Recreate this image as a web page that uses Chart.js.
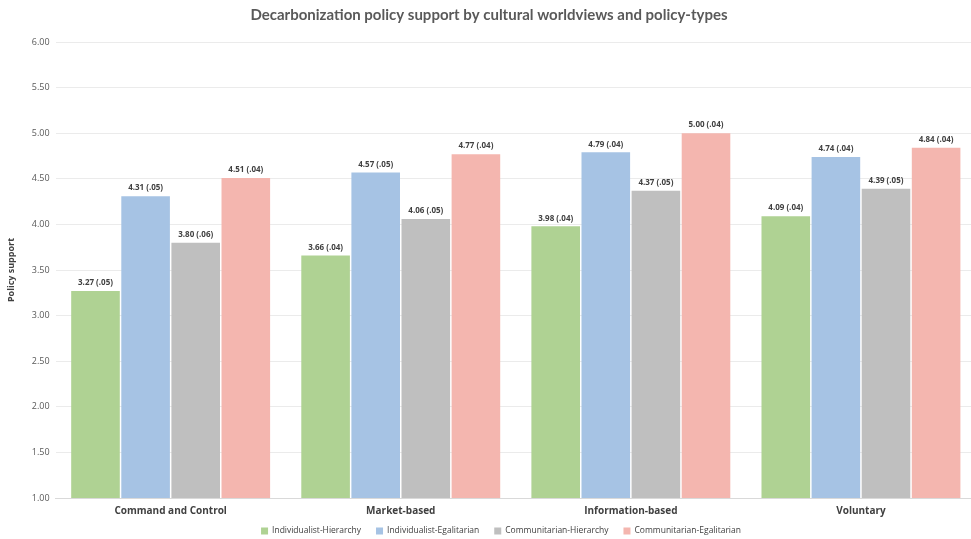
<!DOCTYPE html>
<html>
<head>
<meta charset="utf-8">
<script src="https://cdn.jsdelivr.net/npm/chart.js@4.4.0/dist/chart.umd.min.js"></script>
<style>
  html, body { margin: 0; padding: 0; background: #fff; overflow: hidden; }
  #wrap { width: 971px; height: 539px; overflow: hidden; }
</style>
</head>
<body>
<div id="wrap"><canvas id="policyChart" width="980" height="539"></canvas></div>
<script>
// -------------------- DATA --------------------
const categories = ["Command and Control", "Market-based", "Information-based", "Voluntary"];
const seriesNames = ["Individualist-Hierarchy", "Individualist-Egalitarian", "Communitarian-Hierarchy", "Communitarian-Egalitarian"];

const indHierarchy = [3.27, 3.66, 3.98, 4.09];
const indEgalitarian = [4.31, 4.57, 4.79, 4.74];
const comHierarchy = [3.80, 4.06, 4.37, 4.39];
const comEgalitarian = [4.51, 4.77, 5.00, 4.84];

const seIndHierarchy = [".05", ".04", ".04", ".04"];
const seIndEgalitarian = [".05", ".05", ".04", ".04"];
const seComHierarchy = [".06", ".05", ".05", ".05"];
const seComEgalitarian = [".04", ".04", ".04", ".04"];

const colors = ["#afd293", "#a6c3e4", "#bfbfbf", "#f4b6af"];

// -------------------- LABEL PLUGIN --------------------
const errors = [seIndHierarchy, seIndEgalitarian, seComHierarchy, seComEgalitarian];

const barLabels = {
  id: "barLabels",
  afterDatasetsDraw(chart) {
    const c = chart.ctx;
    c.save();
    c.font = "bold 8px 'Open Sans'";
    c.fillStyle = "#404040";
    c.textAlign = "center";
    c.textBaseline = "bottom";
    chart.data.datasets.forEach((ds, i) => {
      chart.getDatasetMeta(i).data.forEach((bar, j) => {
        c.fillText(ds.data[j].toFixed(2) + " (" + errors[i][j] + ")", bar.x, bar.y - 4);
      });
    });
    c.restore();
  }
};

// legend drawn by hand so the row can sit closer to the axis labels
const bottomLegend = {
  id: "bottomLegend",
  afterDraw(chart) {
    const c = chart.ctx;
    const box = 7, gap = 4, spacing = 15;
    c.save();
    c.font = "8.5px 'Open Sans'";
    c.textBaseline = "middle";
    const widths = chart.data.datasets.map(ds => box + gap + c.measureText(ds.label).width);
    const total = widths.reduce((a, b) => a + b, 0) + spacing * (widths.length - 1);
    let x = 501 - total / 2;
    const y = 531;
    chart.data.datasets.forEach((ds, i) => {
      c.fillStyle = ds.backgroundColor;
      c.fillRect(x, y - box / 2, box, box);
      c.fillStyle = "#404040";
      c.fillText(ds.label, x + box + gap, y);
      x += widths[i] + spacing;
    });
    c.restore();
  }
};

// -------------------- CHART --------------------
const ctx = document.getElementById("policyChart").getContext("2d");

new Chart(ctx, {
  type: "bar",
  data: {
    labels: categories,
    datasets: [indHierarchy, indEgalitarian, comHierarchy, comEgalitarian].map((d, i) => ({
      label: seriesNames[i],
      data: d,
      backgroundColor: colors[i],
      categoryPercentage: 0.871,
      barPercentage: 0.97
    }))
  },
  options: {
    responsive: false,
    animation: false,
    layout: { padding: { left: 2, right: 4, top: 0, bottom: 15 } },
    plugins: {
      title: {
        display: true,
        text: "Decarbonization policy support by cultural worldviews and policy-types",
        font: { family: "Lato", size: 15, weight: "bold" },
        color: "#595959",
        padding: { top: 6, bottom: 18 }
      },
      legend: { display: false },
      tooltip: { enabled: false }
    },
    scales: {
      x: {
        grid: { display: false, drawTicks: false },
        border: { color: "#d9d9d9" },
        ticks: {
          padding: 7,
          font: { family: "Open Sans", size: 10, weight: "bold" },
          color: "#404040"
        }
      },
      y: {
        min: 1,
        max: 6,
        border: { display: false },
        grid: { color: "#ebebeb", drawTicks: false },
        ticks: {
          stepSize: 0.5,
          padding: 6,
          font: { family: "Open Sans", size: 9 },
          color: "#595959",
          callback: (v) => v.toFixed(2)
        },
        title: {
          display: true,
          text: "Policy support",
          font: { family: "Open Sans", size: 9, weight: "bold" },
          color: "#404040",
          padding: { top: 4, bottom: 9 }
        }
      }
    }
  },
  plugins: [barLabels, bottomLegend]
});
</script>
</body>
</html>
